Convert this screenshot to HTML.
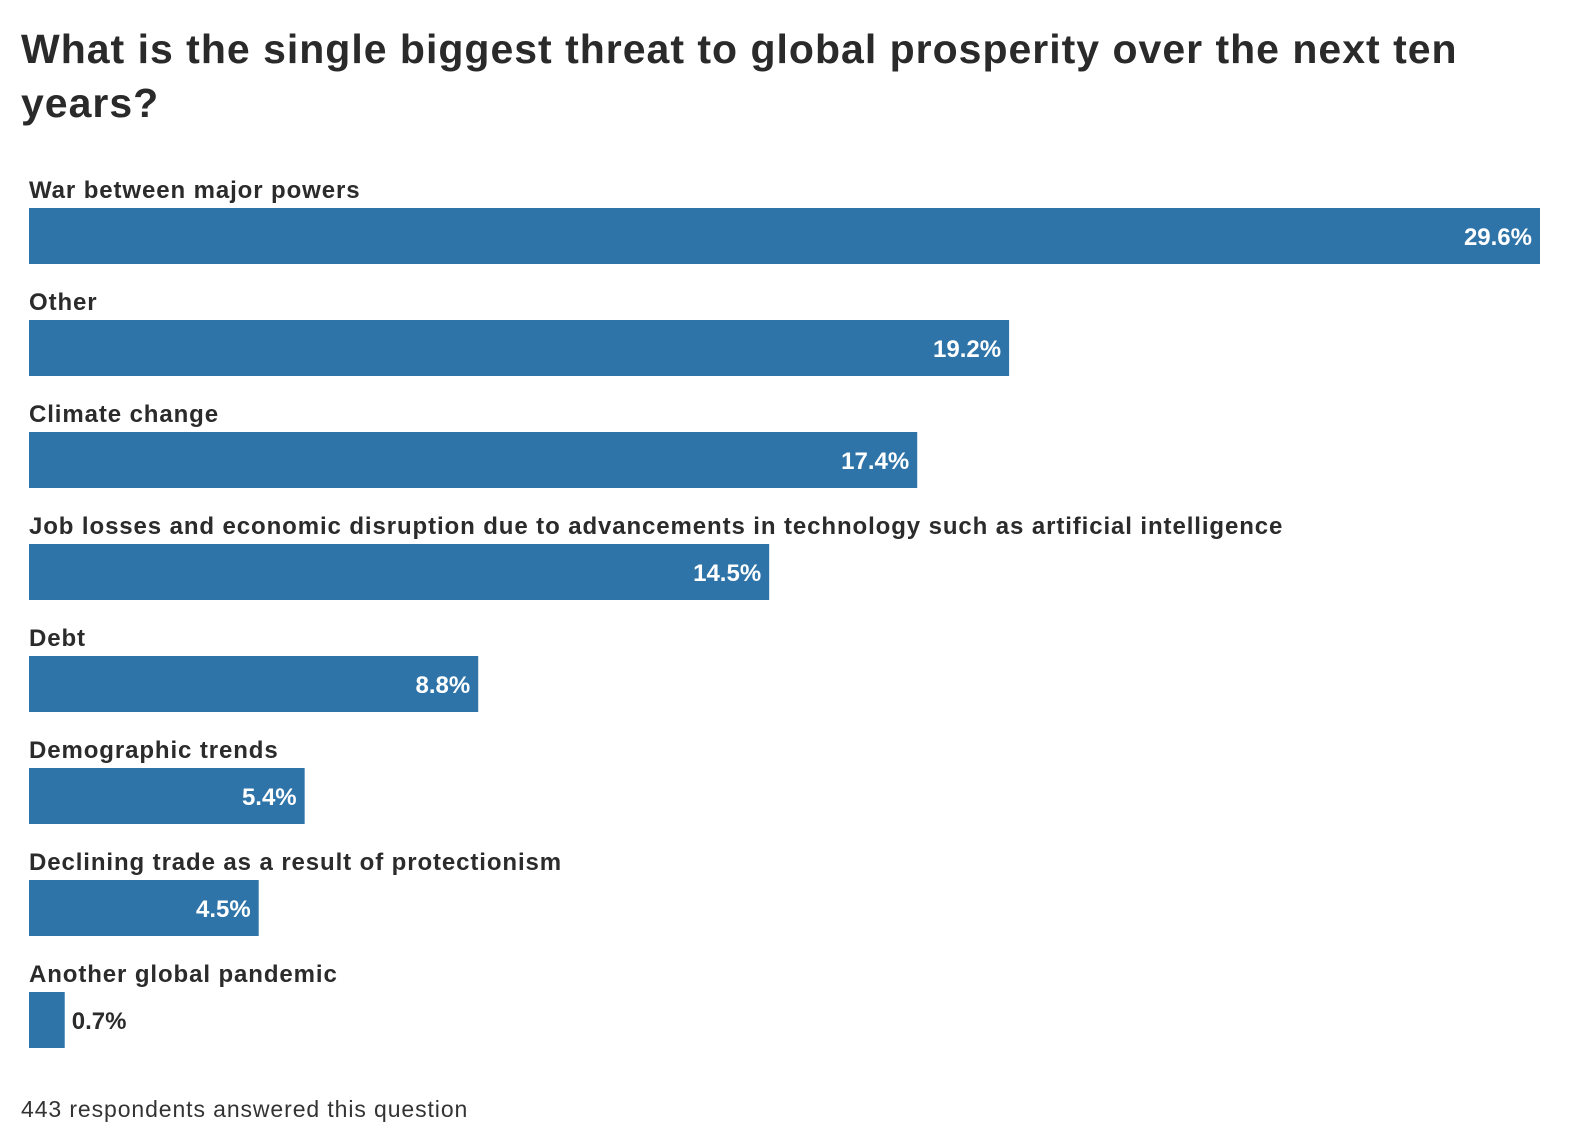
<!DOCTYPE html>
<html><head><meta charset="utf-8"><style>
body{margin:0;background:#fff;width:1588px;height:1146px;overflow:hidden;font-family:"Liberation Sans",sans-serif;color:#2b2b2b}
#title{position:absolute;left:21px;top:22px;width:1560px;font-size:41px;font-weight:bold;line-height:54px;margin:0;color:#2a2a2a;letter-spacing:1px}
#footer{position:absolute;left:21px;top:1096px;font-size:23px;color:#333;letter-spacing:0.9px}
</style></head><body>
<h1 id="title">What is the single biggest threat to global prosperity over the next ten<br>years?</h1>
<svg id="chart" width="1588" height="1146" style="position:absolute;left:0;top:0"></svg>
<div id="footer">443 respondents answered this question</div>
<script>
const categories=["War between major powers","Other","Climate change","Job losses and economic disruption due to advancements in technology such as artificial intelligence","Debt","Demographic trends","Declining trade as a result of protectionism","Another global pandemic"];
const values=[29.6,19.2,17.4,14.5,8.8,5.4,4.5,0.7];
const valueLabels=["29.6%","19.2%","17.4%","14.5%","8.8%","5.4%","4.5%","0.7%"];
const NS="http://www.w3.org/2000/svg";
const svg=document.getElementById('chart');
const x0=29,fullW=1511,maxV=29.6;
const xs=v=>v/maxV*fullW;
const ys=i=>208+i*112;
const barH=56;
function mk(t,a){const e=document.createElementNS(NS,t);for(const k in a)e.setAttribute(k,a[k]);svg.appendChild(e);return e;}
categories.forEach((c,i)=>{
  const y=ys(i),w=xs(values[i]);
  const lab=mk('text',{x:x0,y:y-10,'font-size':24,'font-weight':'bold',fill:'#2b2b2b','letter-spacing':'0.9','font-family':'Liberation Sans, sans-serif'});
  lab.textContent=c;
  
  
  const r=mk('rect',{x:x0,y:y,width:w,height:barH,fill:'#2e74a8'});
  
  
  const inside=w>80;
  const t=mk('text',{x:inside?x0+w-8:x0+w+7,y:y+barH/2+9,'font-size':24,'font-weight':'bold',fill:inside?'#fff':'#2b2b2b','text-anchor':inside?'end':'start','font-family':'Liberation Sans, sans-serif'});
  t.textContent=valueLabels[i];
  
  
});
</script>
</body></html>
